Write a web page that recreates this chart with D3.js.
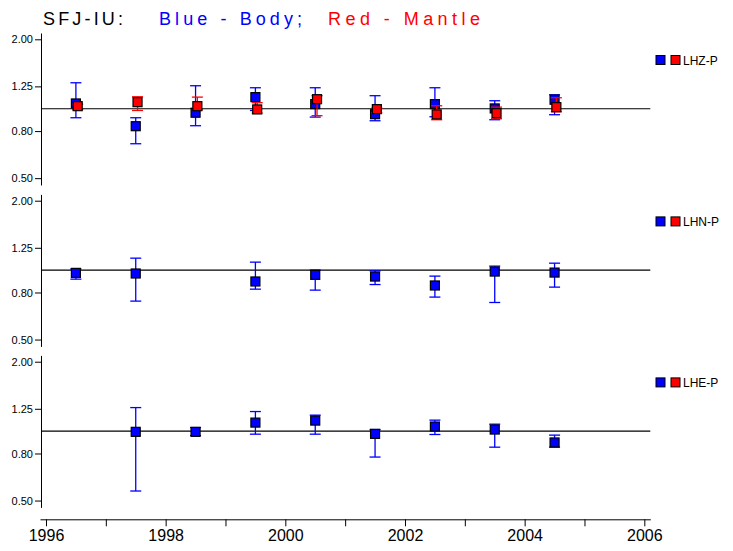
<!DOCTYPE html>
<html><head><meta charset="utf-8">
<script src="https://cdn.jsdelivr.net/npm/d3@7"></script>
<style>body{margin:0;background:#fff}svg{display:block}text{font-family:"Liberation Sans",Arial,sans-serif}</style>
</head><body><svg id="c" width="733" height="551"></svg>
<script>
const years = [1996.5,1997.5,1998.5,1999.5,2000.5,2001.5,2002.5,2003.5,2004.5];
const channels = ["LHZ-P","LHN-P","LHE-P"];
const yTicks = [0.5,0.8,1.25,2.0];
const xTicks = [1996,1997,1998,1999,2000,2001,2002,2003,2004,2005,2006];

const lhzBody   = [1.054,0.84,0.961,1.123,1.047,0.947,1.047,1.003,1.094];
const lhzBodyHi = [1.296,0.914,1.258,1.233,1.233,1.139,1.233,1.083,1.15];
const lhzBodyLo = [0.914,0.705,0.844,0.983,0.92,0.887,0.923,0.896,0.942];
const lhzMantle   = [1.026,1.068,1.026,0.993,1.10,0.996,0.945,0.957,1.016];
const lhzMantleHi = [1.047,1.127,1.123,1.062,1.139,1.006,1.03,1.016,1.116];
const lhzMantleLo = [0.99,0.983,0.99,0.957,0.933,0.96,0.896,0.905,0.97];

const lhnBody   = [0.973,0.967,null,0.893,0.954,0.938,0.858,0.986,0.976];
const lhnBodyHi = [1.013,1.127,null,1.083,1.0,0.993,0.942,1.041,1.072];
const lhnBodyLo = [0.914,0.734,null,0.827,0.819,0.866,0.764,0.724,0.844];

const lheBody   = [null,0.993,0.993,1.089,1.111,0.973,1.047,1.016,0.893];
const lheBodyHi = [null,1.265,1.036,1.216,1.173,1.016,1.116,1.072,0.961];
const lheBodyLo = [null,0.55,0.957,0.97,0.97,0.772,0.967,0.852,0.852];

const mantleShift = 0.03; // small horizontal offset of red points (years)

const panels = [
  {name:channels[0], series:[
    {color:"#0000ff", v:lhzBody, hi:lhzBodyHi, lo:lhzBodyLo, dx:0},
    {color:"#ff0000", v:lhzMantle, hi:lhzMantleHi, lo:lhzMantleLo, dx:mantleShift}]},
  {name:channels[1], series:[
    {color:"#0000ff", v:lhnBody, hi:lhnBodyHi, lo:lhnBodyLo, dx:0}]},
  {name:channels[2], series:[
    {color:"#0000ff", v:lheBody, hi:lheBodyHi, lo:lheBodyLo, dx:0}]}
];

const svg = d3.select("#c");
const x = d3.scaleLinear().domain([1995.9,2006.1]).range([40,650.3]);
const panelTop = [33,194.4,355.4], panelH = 152;
const sq = 9, cap = 5.5;

// title
const title = svg.append("g").attr("font-size",18).style("font-family","'DejaVu Sans',sans-serif");
title.append("text").attr("x",43).attr("y",25).attr("fill","#000").attr("textLength",80).attr("lengthAdjust","spacing").text("SFJ-IU:");
title.append("text").attr("x",159).attr("y",25).attr("fill","#0000ff").attr("textLength",143).attr("lengthAdjust","spacing").text("Blue - Body;");
title.append("text").attr("x",328).attr("y",25).attr("fill","#ff0000").attr("textLength",152).attr("lengthAdjust","spacing").text("Red - Mantle");

panels.forEach((p,i)=>{
  const top = panelTop[i];
  const y = d3.scaleLog().domain([0.467,2.13]).range([top+panelH, top]);
  const g = svg.append("g");
  const ax = g.append("g").attr("transform","translate(41,0)")
    .call(d3.axisLeft(y).tickValues(yTicks).tickFormat(d3.format(".2f")).tickSize(6).tickPadding(2).tickSizeOuter(0));
  ax.selectAll("path,line").attr("stroke","#000").attr("stroke-width",1);
  ax.selectAll("text").attr("font-size",11).attr("fill","#000");
  // reference line at 1.0
  g.append("line").attr("x1",41).attr("x2",x.range()[1]).attr("y1",y(1)).attr("y2",y(1)).attr("stroke","#000").attr("stroke-width",1.2);
  p.series.forEach(s=>{
    const d = years.map((t,k)=>({t:t+s.dx, v:s.v[k], hi:s.hi[k], lo:s.lo[k]})).filter(e=>e.v!=null);
    const eg = g.append("g").attr("stroke",s.color).attr("stroke-width",1.3);
    d.forEach(e=>{
      const cx = x(e.t);
      eg.append("line").attr("x1",cx).attr("x2",cx).attr("y1",y(e.hi)).attr("y2",y(e.lo));
      eg.append("line").attr("x1",cx-cap).attr("x2",cx+cap).attr("y1",y(e.hi)).attr("y2",y(e.hi));
      eg.append("line").attr("x1",cx-cap).attr("x2",cx+cap).attr("y1",y(e.lo)).attr("y2",y(e.lo));
    });
    g.append("g").selectAll("rect").data(d).join("rect")
      .attr("x",e=>x(e.t)-sq/2).attr("y",e=>y(e.v)-sq/2).attr("width",sq).attr("height",sq)
      .attr("fill",s.color).attr("stroke","#000").attr("stroke-width",1.2);
  });
  // legend
  const ly = top + 27;
  const lg = svg.append("g");
  lg.append("rect").attr("x",656).attr("y",ly-4.5).attr("width",9).attr("height",9).attr("fill","#0000ff").attr("stroke","#000");
  lg.append("rect").attr("x",671).attr("y",ly-4.5).attr("width",9).attr("height",9).attr("fill","#ff0000").attr("stroke","#000");
  lg.append("text").attr("x",683).attr("y",ly+4.5).attr("font-size",12).attr("fill","#000").text(p.name);
});

// x axis
const xa = svg.append("g").attr("transform","translate(0,519.3)")
  .call(d3.axisBottom(x).tickValues(xTicks).tickFormat(d=>d%2===0?String(d):"").tickSize(7).tickPadding(3).tickSizeOuter(0));
xa.selectAll("path,line").attr("stroke","#000").attr("stroke-width",1);
xa.selectAll("text").attr("font-size",16).attr("fill","#000");
</script></body></html>
